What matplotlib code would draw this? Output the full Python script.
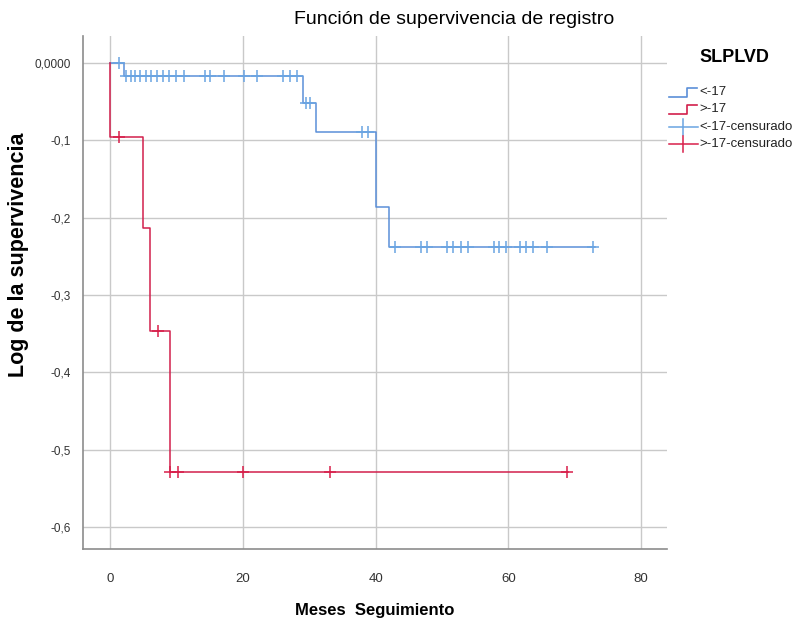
import matplotlib
matplotlib.use("Agg")
import matplotlib.pyplot as plt
import numpy as np
from matplotlib.lines import Line2D

# Kaplan-Meier log-survival steps per SLPLVD group
low_step_times = [0, 2.1, 29.0, 31.0, 40.0, 42.0]
low_step_logs = [0.0, -0.0172, -0.0513, -0.0897, -0.186, -0.2377]
low_end = 73.0
low_censored = [1.3, 2.4, 3.2, 3.8, 4.5, 5.4, 6.2, 7.1, 8.0, 8.9, 9.9, 11.1,
                14.3, 15.0, 17.2, 20.2, 22.2, 26.1, 27.1, 28.1,
                29.5, 30.1, 37.9, 38.9,
                42.9, 46.9, 47.8, 50.8, 51.7, 52.8, 53.9, 57.8, 58.6, 59.6,
                61.7, 62.7, 63.7, 65.8, 72.7]

high_step_times = [0, 0.05, 5.0, 6.0, 9.0]
high_step_logs = [0.0, -0.0953, -0.2131, -0.3466, -0.529]
high_end = 69.0
high_censored = [1.3, 7.3, 9.1, 10.2, 20.1, 33.1, 68.8]

group_labels = ["<-17", ">-17", "<-17-censurado", ">-17-censurado"]
legend_title = "SLPLVD"

x_ticks = [0, 20, 40, 60, 80]
y_ticks = [0.0, -0.1, -0.2, -0.3, -0.4, -0.5, -0.6]
y_tick_labels = ["0,0000", "-0,1", "-0,2", "-0,3", "-0,4", "-0,5", "-0,6"]

blue = "#5b8fd8"
blue_c = "#6aa4e2"
red = "#d21f4c"
red_c = "#d81f4a"
grid_c = "#c9c9c9"

plt.rcParams["font.family"] = ["Liberation Sans", "DejaVu Sans"]

fig = plt.figure(figsize=(7.95, 6.23), dpi=100)
ax = fig.add_axes([83 / 795, 74 / 623, 584 / 795, 513 / 623])


def fx(px):
    return px / 795


def fy(py):
    return 1 - py / 623


def level_at(times, logs, t):
    idx = np.searchsorted(times, t, side="right") - 1
    return logs[max(idx, 0)]


def draw_group(times, logs, end, cens, color, ccolor):
    xs = list(times) + [end]
    ys = list(logs) + [logs[-1]]
    ax.step(xs, ys, where="post", color=color, lw=1.1, zorder=3)
    cy = [level_at(times, logs, t) for t in cens]
    ax.plot(cens, cy, linestyle="none", marker="+", markersize=8,
            markeredgewidth=1.1, color=ccolor, zorder=4)


draw_group(low_step_times, low_step_logs, low_end, low_censored, blue, blue_c)
draw_group(high_step_times, high_step_logs, high_end, high_censored, red, red_c)

ax.set_xlim(-4.07, 83.9)
ax.set_ylim(-0.6285, 0.0349)
ax.set_xticks(x_ticks)
ax.set_yticks(y_ticks)
ax.set_yticklabels(y_tick_labels)
ax.tick_params(length=0, colors="#333333")
ax.tick_params(axis="x", pad=17, labelsize=9.5)
ax.tick_params(axis="y", pad=9, labelsize=8.5)
ax.grid(True, color=grid_c, lw=1.0, zorder=0)
ax.set_axisbelow(True)
for side in ["top", "right"]:
    ax.spines[side].set_visible(False)
for side in ["left", "bottom"]:
    ax.spines[side].set_color("#8c8c8c")
    ax.spines[side].set_linewidth(1.2)

fig.text(fx(375), fy(610), "Meses  Seguimiento", ha="center", va="center",
         fontsize=12, fontweight="bold")
fig.text(fx(19), fy(255), "Log de la supervivencia", ha="center",
         va="center", rotation=90, fontsize=15.5, fontweight="bold")
fig.text(fx(454), fy(19), "Función de supervivencia de registro",
         ha="center", va="center", fontsize=14)

# Legend drawn in figure pixel space
fig.text(fx(734), fy(58), legend_title, ha="center", va="center",
         fontsize=13, fontweight="bold")

rows = [92, 109.5, 127, 144]
for i, (lbl, yy) in enumerate(zip(group_labels, rows)):
    if i < 2:
        col = blue if i == 0 else red
        sx = [669, 687, 687, 697]
        sy = [yy + 4.5, yy + 4.5, yy - 4.5, yy - 4.5]
        fig.add_artist(Line2D([fx(v) for v in sx], [fy(v) for v in sy],
                              color=col, lw=1.2))
    else:
        col = blue_c if i == 2 else red_c
        fig.add_artist(Line2D([fx(669), fx(698)], [fy(yy), fy(yy)],
                              color=col, lw=1.1))
        fig.add_artist(Line2D([fx(683), fx(683)], [fy(yy - 8), fy(yy + 8)],
                              color=col, lw=1.1))
    fig.text(fx(699), fy(yy), lbl, ha="left", va="center", fontsize=9.5,
             color="#222222")

fig.savefig("out.png", dpi=100, facecolor="white")
